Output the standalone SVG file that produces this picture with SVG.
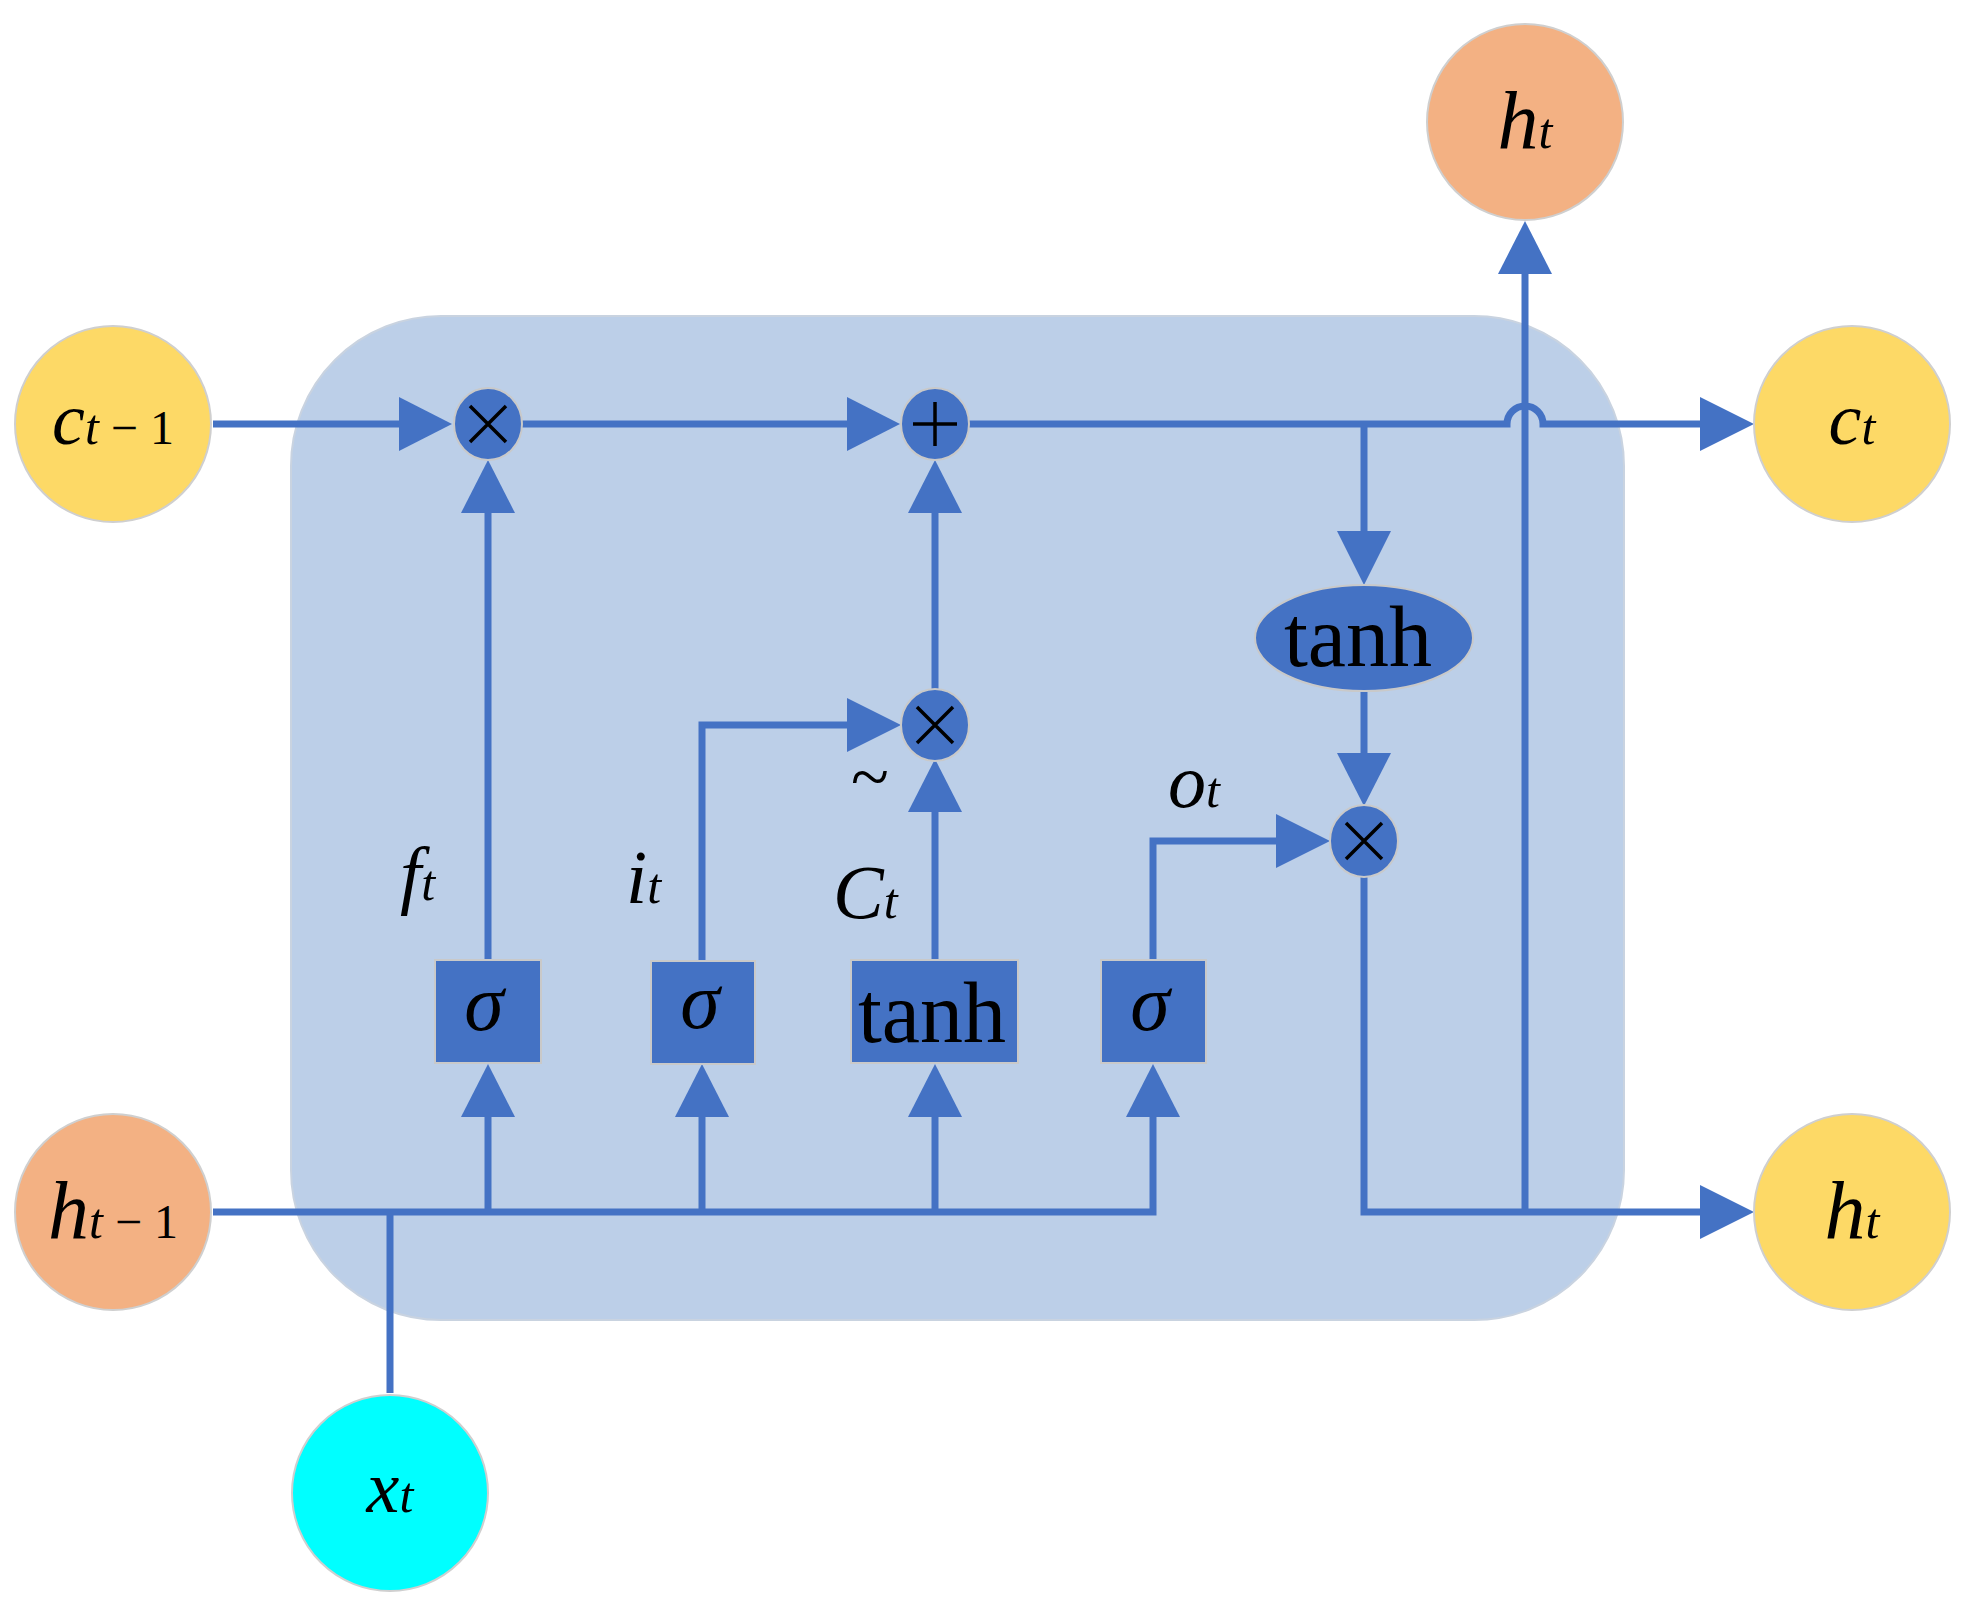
<svg xmlns="http://www.w3.org/2000/svg" width="1968" height="1608" viewBox="0 0 1968 1608">
<style>
.ln{fill:none;stroke:#4472c4;stroke-width:7}
.ah{fill:#4472c4}
.op{fill:#4472c4;stroke:#c9c9c9;stroke-width:2}
.box{fill:#4472c4;stroke:#c9c9c9;stroke-width:2}
.x{stroke:#000;stroke-width:3.5;fill:none}
.t{font-family:"Liberation Serif",serif;fill:#000}
.i{font-style:italic}
</style>
<rect x="291" y="316" width="1333" height="1004" rx="150" fill="#bccfe8" stroke="#c9d3e0" stroke-width="2"/>
<g id="connectors">
<path class="ln" d="M213 424H420"/><polygon class="ah" points="452,424 399,397 399,451"/>
<path class="ln" d="M522 424H870"/><polygon class="ah" points="900,424 847,397 847,451"/>
<path class="ln" d="M969 424H1507A18 18 0 0 1 1543 424H1720"/><polygon class="ah" points="1754,424 1700,397 1700,451"/>
<path class="ln" d="M1364 424V545"/><polygon class="ah" points="1364,585 1337,531 1391,531"/>
<path class="ln" d="M1364 691V770"/><polygon class="ah" points="1364,806 1337,753 1391,753"/>
<path class="ln" d="M1364 875V1212H1720"/><polygon class="ah" points="1754,1212 1700,1185 1700,1239"/>
<path class="ln" d="M1525 1212V250"/><polygon class="ah" points="1525,221 1498,274 1552,274"/>
<path class="ln" d="M213 1212H1153V1100"/>
<path class="ln" d="M390 1212V1393"/>
<path class="ln" d="M488 1212V1100"/><polygon class="ah" points="488,1064 461,1117 515,1117"/>
<path class="ln" d="M702 1212V1100"/><polygon class="ah" points="702,1064 675,1117 729,1117"/>
<path class="ln" d="M935 1212V1100"/><polygon class="ah" points="935,1064 908,1117 962,1117"/>
<polygon class="ah" points="1153,1064 1126,1117 1180,1117"/>
<path class="ln" d="M488 960V490"/><polygon class="ah" points="488,460 461,513 515,513"/>
<path class="ln" d="M702 960V725H870"/><polygon class="ah" points="901,725 847,698 847,752"/>
<path class="ln" d="M935 960V790"/><polygon class="ah" points="935,759 908,812 962,812"/>
<path class="ln" d="M935 691V490"/><polygon class="ah" points="935,460 908,513 962,513"/>
<path class="ln" d="M1153 960V841H1300"/><polygon class="ah" points="1330,841 1276,814 1276,868"/>
</g>
<g id="c_prev"><circle cx="113" cy="424" r="98" fill="#fdd966" stroke="#cfcfcf" stroke-width="2"/><text class="t" x="113" y="444" font-size="74" text-anchor="middle"><tspan class="i">c</tspan><tspan class="i" font-size="50">t</tspan><tspan font-size="48"> − 1</tspan></text></g>
<g id="h_prev"><circle cx="113" cy="1212" r="98" fill="#f3b183" stroke="#cfcfcf" stroke-width="2"/><text class="t" x="113" y="1238" font-size="82" text-anchor="middle"><tspan class="i">h</tspan><tspan class="i" font-size="50">t</tspan><tspan font-size="48"> − 1</tspan></text></g>
<g id="x_t"><circle cx="390" cy="1493" r="98" fill="#00ffff" stroke="#cfcfcf" stroke-width="2"/><text class="t" x="390" y="1512" font-size="74" text-anchor="middle"><tspan class="i">x</tspan><tspan class="i" font-size="50">t</tspan></text></g>
<g id="h_out_top"><circle cx="1525" cy="122" r="98" fill="#f3b183" stroke="#cfcfcf" stroke-width="2"/><text class="t" x="1525" y="148" font-size="82" text-anchor="middle"><tspan class="i">h</tspan><tspan class="i" font-size="50">t</tspan></text></g>
<g id="c_t"><circle cx="1852" cy="424" r="98" fill="#fdd966" stroke="#cfcfcf" stroke-width="2"/><text class="t" x="1852" y="444" font-size="74" text-anchor="middle"><tspan class="i">c</tspan><tspan class="i" font-size="50">t</tspan></text></g>
<g id="h_t"><circle cx="1852" cy="1212" r="98" fill="#fdd966" stroke="#cfcfcf" stroke-width="2"/><text class="t" x="1852" y="1238" font-size="82" text-anchor="middle"><tspan class="i">h</tspan><tspan class="i" font-size="50">t</tspan></text></g>
<g id="mul_f"><ellipse class="op" cx="488" cy="424" rx="34" ry="36"/><path class="x" d="M470 406L506 442M506 406L470 442"/></g>
<g id="add"><ellipse class="op" cx="935" cy="424" rx="34" ry="36"/><path class="x" d="M913 424H957M935 402V446"/></g>
<g id="mul_i"><ellipse class="op" cx="935" cy="725" rx="34" ry="36"/><path class="x" d="M917 707L953 743M953 707L917 743"/></g>
<g id="mul_o"><ellipse class="op" cx="1364" cy="841" rx="34" ry="36"/><path class="x" d="M1346 823L1382 859M1382 823L1346 859"/></g>
<g id="tanh_c"><ellipse class="op" cx="1364" cy="638" rx="109" ry="53"/><text class="t" x="1358" y="666" font-size="86" text-anchor="middle">tanh</text></g>
<g id="sig_f"><rect class="box" x="435" y="960" width="106" height="103"/><text class="t i" x="484" y="1030" font-size="80" text-anchor="middle">σ</text></g>
<g id="sig_i"><rect class="box" x="651" y="961" width="104" height="103"/><text class="t i" x="700" y="1028" font-size="80" text-anchor="middle">σ</text></g>
<g id="tanh_g"><rect class="box" x="851" y="960" width="167" height="103"/><text class="t" x="932" y="1042" font-size="86" text-anchor="middle">tanh</text></g>
<g id="sig_o"><rect class="box" x="1101" y="960" width="105" height="103"/><text class="t i" x="1150" y="1030" font-size="80" text-anchor="middle">σ</text></g>
<g id="labels">
<text class="t" x="400" y="900" font-size="76"><tspan class="i">f</tspan><tspan class="i" font-size="50">t</tspan></text>
<text class="t" x="626" y="903" font-size="76"><tspan class="i">i</tspan><tspan class="i" font-size="50">t</tspan></text>
<text class="t" x="833" y="918" font-size="76"><tspan class="i">C</tspan><tspan class="i" font-size="50">t</tspan></text>
<text class="t" x="870" y="800" font-size="70" text-anchor="middle">~</text>
<text class="t" x="1168" y="807" font-size="76"><tspan class="i">o</tspan><tspan class="i" font-size="50">t</tspan></text>
</g>
</svg>
